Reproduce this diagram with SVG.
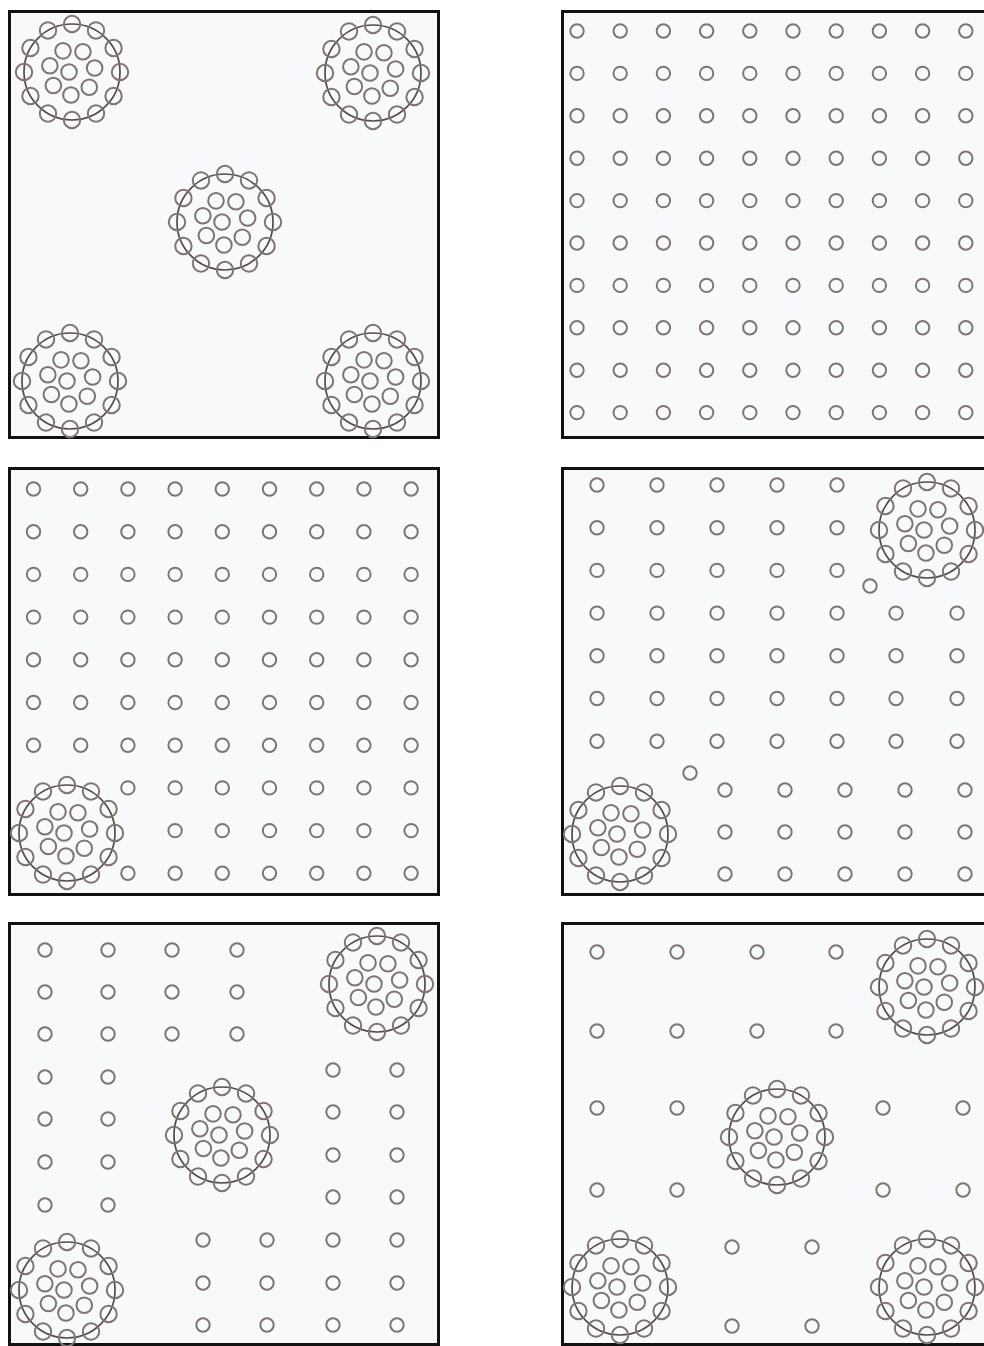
<svg xmlns="http://www.w3.org/2000/svg" xmlns:xlink="http://www.w3.org/1999/xlink" width="984" height="1346" viewBox="0 0 984 1346">
<style>
.panel{fill:#f8f9fa;stroke:#111;stroke-width:3}
.c{fill:none;stroke:#807473;stroke-width:2}
.ring{fill:none;stroke:#554b4a;stroke-width:1.7}
</style>
<defs>
<circle id="s" class="c" r="6.7"/>
<g id="cluster">
<circle class="ring" r="48"/>
<circle class="c" r="8.2" cx="0" cy="-48"/>
<circle class="c" r="8.2" cx="24" cy="-41.57"/>
<circle class="c" r="8.2" cx="41.57" cy="-24"/>
<circle class="c" r="8.2" cx="48" cy="0"/>
<circle class="c" r="8.2" cx="41.57" cy="24"/>
<circle class="c" r="8.2" cx="24" cy="41.57"/>
<circle class="c" r="8.2" cx="0" cy="48"/>
<circle class="c" r="8.2" cx="-24" cy="41.57"/>
<circle class="c" r="8.2" cx="-41.57" cy="24"/>
<circle class="c" r="8.2" cx="-48" cy="0"/>
<circle class="c" r="8.2" cx="-41.57" cy="-24"/>
<circle class="c" r="8.2" cx="-24" cy="-41.57"/>
<circle class="c" r="7.8" cx="-3" cy="0"/>
<circle class="c" r="7.8" cx="-8.99" cy="-21.17"/>
<circle class="c" r="7.8" cx="10.94" cy="-20.23"/>
<circle class="c" r="7.8" cx="22.64" cy="-4.03"/>
<circle class="c" r="7.8" cx="17.28" cy="15.18"/>
<circle class="c" r="7.8" cx="-1.08" cy="22.97"/>
<circle class="c" r="7.8" cx="-18.63" cy="13.49"/>
<circle class="c" r="7.8" cx="-22.15" cy="-6.19"/>
</g>
</defs>
<rect width="984" height="1346" fill="#fff"/>

<g id="panel1">
<rect class="panel" x="9.5" y="11.5" width="429" height="426"/>
<use href="#cluster" x="72" y="72"/>
<use href="#cluster" x="373" y="73"/>
<use href="#cluster" x="225" y="222"/>
<use href="#cluster" x="70" y="381"/>
<use href="#cluster" x="373" y="381"/>
</g>

<g id="panel2">
<rect class="panel" x="562.5" y="11.5" width="429" height="426"/>
<g id="grid2">
<use href="#s" x="577" y="31"/><use href="#s" x="620.2" y="31"/><use href="#s" x="663.4" y="31"/><use href="#s" x="706.6" y="31"/><use href="#s" x="749.8" y="31"/><use href="#s" x="793" y="31"/><use href="#s" x="836.2" y="31"/><use href="#s" x="879.4" y="31"/><use href="#s" x="922.6" y="31"/><use href="#s" x="965.8" y="31"/>
<use href="#s" x="577" y="73.4"/><use href="#s" x="620.2" y="73.4"/><use href="#s" x="663.4" y="73.4"/><use href="#s" x="706.6" y="73.4"/><use href="#s" x="749.8" y="73.4"/><use href="#s" x="793" y="73.4"/><use href="#s" x="836.2" y="73.4"/><use href="#s" x="879.4" y="73.4"/><use href="#s" x="922.6" y="73.4"/><use href="#s" x="965.8" y="73.4"/>
<use href="#s" x="577" y="115.8"/><use href="#s" x="620.2" y="115.8"/><use href="#s" x="663.4" y="115.8"/><use href="#s" x="706.6" y="115.8"/><use href="#s" x="749.8" y="115.8"/><use href="#s" x="793" y="115.8"/><use href="#s" x="836.2" y="115.8"/><use href="#s" x="879.4" y="115.8"/><use href="#s" x="922.6" y="115.8"/><use href="#s" x="965.8" y="115.8"/>
<use href="#s" x="577" y="158.2"/><use href="#s" x="620.2" y="158.2"/><use href="#s" x="663.4" y="158.2"/><use href="#s" x="706.6" y="158.2"/><use href="#s" x="749.8" y="158.2"/><use href="#s" x="793" y="158.2"/><use href="#s" x="836.2" y="158.2"/><use href="#s" x="879.4" y="158.2"/><use href="#s" x="922.6" y="158.2"/><use href="#s" x="965.8" y="158.2"/>
<use href="#s" x="577" y="200.6"/><use href="#s" x="620.2" y="200.6"/><use href="#s" x="663.4" y="200.6"/><use href="#s" x="706.6" y="200.6"/><use href="#s" x="749.8" y="200.6"/><use href="#s" x="793" y="200.6"/><use href="#s" x="836.2" y="200.6"/><use href="#s" x="879.4" y="200.6"/><use href="#s" x="922.6" y="200.6"/><use href="#s" x="965.8" y="200.6"/>
<use href="#s" x="577" y="243"/><use href="#s" x="620.2" y="243"/><use href="#s" x="663.4" y="243"/><use href="#s" x="706.6" y="243"/><use href="#s" x="749.8" y="243"/><use href="#s" x="793" y="243"/><use href="#s" x="836.2" y="243"/><use href="#s" x="879.4" y="243"/><use href="#s" x="922.6" y="243"/><use href="#s" x="965.8" y="243"/>
<use href="#s" x="577" y="285.4"/><use href="#s" x="620.2" y="285.4"/><use href="#s" x="663.4" y="285.4"/><use href="#s" x="706.6" y="285.4"/><use href="#s" x="749.8" y="285.4"/><use href="#s" x="793" y="285.4"/><use href="#s" x="836.2" y="285.4"/><use href="#s" x="879.4" y="285.4"/><use href="#s" x="922.6" y="285.4"/><use href="#s" x="965.8" y="285.4"/>
<use href="#s" x="577" y="327.8"/><use href="#s" x="620.2" y="327.8"/><use href="#s" x="663.4" y="327.8"/><use href="#s" x="706.6" y="327.8"/><use href="#s" x="749.8" y="327.8"/><use href="#s" x="793" y="327.8"/><use href="#s" x="836.2" y="327.8"/><use href="#s" x="879.4" y="327.8"/><use href="#s" x="922.6" y="327.8"/><use href="#s" x="965.8" y="327.8"/>
<use href="#s" x="577" y="370.2"/><use href="#s" x="620.2" y="370.2"/><use href="#s" x="663.4" y="370.2"/><use href="#s" x="706.6" y="370.2"/><use href="#s" x="749.8" y="370.2"/><use href="#s" x="793" y="370.2"/><use href="#s" x="836.2" y="370.2"/><use href="#s" x="879.4" y="370.2"/><use href="#s" x="922.6" y="370.2"/><use href="#s" x="965.8" y="370.2"/>
<use href="#s" x="577" y="412.6"/><use href="#s" x="620.2" y="412.6"/><use href="#s" x="663.4" y="412.6"/><use href="#s" x="706.6" y="412.6"/><use href="#s" x="749.8" y="412.6"/><use href="#s" x="793" y="412.6"/><use href="#s" x="836.2" y="412.6"/><use href="#s" x="879.4" y="412.6"/><use href="#s" x="922.6" y="412.6"/><use href="#s" x="965.8" y="412.6"/>
</g>
</g>

<g id="panel3">
<rect class="panel" x="9.5" y="468.5" width="429" height="426"/>
<use href="#s" x="33.5" y="489"/><use href="#s" x="80.7" y="489"/><use href="#s" x="127.9" y="489"/><use href="#s" x="175.1" y="489"/><use href="#s" x="222.3" y="489"/><use href="#s" x="269.5" y="489"/><use href="#s" x="316.7" y="489"/><use href="#s" x="363.9" y="489"/><use href="#s" x="411.1" y="489"/>
<use href="#s" x="33.5" y="531.7"/><use href="#s" x="80.7" y="531.7"/><use href="#s" x="127.9" y="531.7"/><use href="#s" x="175.1" y="531.7"/><use href="#s" x="222.3" y="531.7"/><use href="#s" x="269.5" y="531.7"/><use href="#s" x="316.7" y="531.7"/><use href="#s" x="363.9" y="531.7"/><use href="#s" x="411.1" y="531.7"/>
<use href="#s" x="33.5" y="574.4"/><use href="#s" x="80.7" y="574.4"/><use href="#s" x="127.9" y="574.4"/><use href="#s" x="175.1" y="574.4"/><use href="#s" x="222.3" y="574.4"/><use href="#s" x="269.5" y="574.4"/><use href="#s" x="316.7" y="574.4"/><use href="#s" x="363.9" y="574.4"/><use href="#s" x="411.1" y="574.4"/>
<use href="#s" x="33.5" y="617.1"/><use href="#s" x="80.7" y="617.1"/><use href="#s" x="127.9" y="617.1"/><use href="#s" x="175.1" y="617.1"/><use href="#s" x="222.3" y="617.1"/><use href="#s" x="269.5" y="617.1"/><use href="#s" x="316.7" y="617.1"/><use href="#s" x="363.9" y="617.1"/><use href="#s" x="411.1" y="617.1"/>
<use href="#s" x="33.5" y="659.8"/><use href="#s" x="80.7" y="659.8"/><use href="#s" x="127.9" y="659.8"/><use href="#s" x="175.1" y="659.8"/><use href="#s" x="222.3" y="659.8"/><use href="#s" x="269.5" y="659.8"/><use href="#s" x="316.7" y="659.8"/><use href="#s" x="363.9" y="659.8"/><use href="#s" x="411.1" y="659.8"/>
<use href="#s" x="33.5" y="702.5"/><use href="#s" x="80.7" y="702.5"/><use href="#s" x="127.9" y="702.5"/><use href="#s" x="175.1" y="702.5"/><use href="#s" x="222.3" y="702.5"/><use href="#s" x="269.5" y="702.5"/><use href="#s" x="316.7" y="702.5"/><use href="#s" x="363.9" y="702.5"/><use href="#s" x="411.1" y="702.5"/>
<use href="#s" x="33.5" y="745.2"/><use href="#s" x="80.7" y="745.2"/><use href="#s" x="127.9" y="745.2"/><use href="#s" x="175.1" y="745.2"/><use href="#s" x="222.3" y="745.2"/><use href="#s" x="269.5" y="745.2"/><use href="#s" x="316.7" y="745.2"/><use href="#s" x="363.9" y="745.2"/><use href="#s" x="411.1" y="745.2"/>
<use href="#s" x="127.9" y="787.9"/><use href="#s" x="175.1" y="787.9"/><use href="#s" x="222.3" y="787.9"/><use href="#s" x="269.5" y="787.9"/><use href="#s" x="316.7" y="787.9"/><use href="#s" x="363.9" y="787.9"/><use href="#s" x="411.1" y="787.9"/>
<use href="#s" x="175.1" y="830.6"/><use href="#s" x="222.3" y="830.6"/><use href="#s" x="269.5" y="830.6"/><use href="#s" x="316.7" y="830.6"/><use href="#s" x="363.9" y="830.6"/><use href="#s" x="411.1" y="830.6"/>
<use href="#s" x="127.9" y="873.3"/><use href="#s" x="175.1" y="873.3"/><use href="#s" x="222.3" y="873.3"/><use href="#s" x="269.5" y="873.3"/><use href="#s" x="316.7" y="873.3"/><use href="#s" x="363.9" y="873.3"/><use href="#s" x="411.1" y="873.3"/>
<use href="#cluster" x="67" y="833"/>
</g>

<g id="panel4">
<rect class="panel" x="562.5" y="468.5" width="429" height="426"/>
<use href="#s" x="597" y="485"/><use href="#s" x="657" y="485"/><use href="#s" x="717" y="485"/><use href="#s" x="777" y="485"/><use href="#s" x="837" y="485"/>
<use href="#s" x="597" y="527.7"/><use href="#s" x="657" y="527.7"/><use href="#s" x="717" y="527.7"/><use href="#s" x="777" y="527.7"/><use href="#s" x="837" y="527.7"/>
<use href="#s" x="597" y="570.4"/><use href="#s" x="657" y="570.4"/><use href="#s" x="717" y="570.4"/><use href="#s" x="777" y="570.4"/><use href="#s" x="837" y="570.4"/>
<use href="#s" x="597" y="613.1"/><use href="#s" x="657" y="613.1"/><use href="#s" x="717" y="613.1"/><use href="#s" x="777" y="613.1"/><use href="#s" x="837" y="613.1"/><use href="#s" x="896" y="613.1"/><use href="#s" x="957" y="613.1"/>
<use href="#s" x="597" y="655.8"/><use href="#s" x="657" y="655.8"/><use href="#s" x="717" y="655.8"/><use href="#s" x="777" y="655.8"/><use href="#s" x="837" y="655.8"/><use href="#s" x="896" y="655.8"/><use href="#s" x="957" y="655.8"/>
<use href="#s" x="597" y="698.5"/><use href="#s" x="657" y="698.5"/><use href="#s" x="717" y="698.5"/><use href="#s" x="777" y="698.5"/><use href="#s" x="837" y="698.5"/><use href="#s" x="896" y="698.5"/><use href="#s" x="957" y="698.5"/>
<use href="#s" x="597" y="741.2"/><use href="#s" x="657" y="741.2"/><use href="#s" x="717" y="741.2"/><use href="#s" x="777" y="741.2"/><use href="#s" x="837" y="741.2"/><use href="#s" x="896" y="741.2"/><use href="#s" x="957" y="741.2"/>
<use href="#s" x="870" y="586"/>
<use href="#s" x="690" y="773"/>
<use href="#s" x="725" y="790"/><use href="#s" x="785" y="790"/><use href="#s" x="845" y="790"/><use href="#s" x="905" y="790"/><use href="#s" x="965" y="790"/>
<use href="#s" x="725" y="832"/><use href="#s" x="785" y="832"/><use href="#s" x="845" y="832"/><use href="#s" x="905" y="832"/><use href="#s" x="965" y="832"/>
<use href="#s" x="725" y="874"/><use href="#s" x="785" y="874"/><use href="#s" x="845" y="874"/><use href="#s" x="905" y="874"/><use href="#s" x="965" y="874"/>
<use href="#cluster" x="927" y="530"/>
<use href="#cluster" x="620" y="834"/>
</g>

<g id="panel5">
<rect class="panel" x="9.5" y="923.5" width="429" height="421"/>
<use href="#s" x="45" y="950"/><use href="#s" x="108" y="950"/><use href="#s" x="172" y="950"/><use href="#s" x="237" y="950"/>
<use href="#s" x="45" y="992"/><use href="#s" x="108" y="992"/><use href="#s" x="172" y="992"/><use href="#s" x="237" y="992"/>
<use href="#s" x="45" y="1034"/><use href="#s" x="108" y="1034"/><use href="#s" x="172" y="1034"/><use href="#s" x="237" y="1034"/>
<use href="#s" x="45" y="1077"/><use href="#s" x="108" y="1077"/>
<use href="#s" x="45" y="1119"/><use href="#s" x="108" y="1119"/>
<use href="#s" x="45" y="1162"/><use href="#s" x="108" y="1162"/>
<use href="#s" x="45" y="1205"/><use href="#s" x="108" y="1205"/>
<use href="#s" x="333" y="1070"/><use href="#s" x="397" y="1070"/>
<use href="#s" x="333" y="1112"/><use href="#s" x="397" y="1112"/>
<use href="#s" x="333" y="1155"/><use href="#s" x="397" y="1155"/>
<use href="#s" x="333" y="1197"/><use href="#s" x="397" y="1197"/>
<use href="#s" x="203" y="1240"/><use href="#s" x="267" y="1240"/><use href="#s" x="333" y="1240"/><use href="#s" x="397" y="1240"/>
<use href="#s" x="203" y="1283"/><use href="#s" x="267" y="1283"/><use href="#s" x="333" y="1283"/><use href="#s" x="397" y="1283"/>
<use href="#s" x="203" y="1325"/><use href="#s" x="267" y="1325"/><use href="#s" x="333" y="1325"/><use href="#s" x="397" y="1325"/>
<use href="#cluster" x="377" y="984"/>
<use href="#cluster" x="222" y="1135"/>
<use href="#cluster" x="67" y="1290"/>
</g>

<g id="panel6">
<rect class="panel" x="562.5" y="923.5" width="429" height="421"/>
<use href="#s" x="597" y="952"/><use href="#s" x="677" y="952"/><use href="#s" x="757" y="952"/><use href="#s" x="836" y="952"/>
<use href="#s" x="597" y="1031"/><use href="#s" x="677" y="1031"/><use href="#s" x="757" y="1031"/><use href="#s" x="836" y="1031"/>
<use href="#s" x="597" y="1108"/><use href="#s" x="677" y="1108"/><use href="#s" x="883" y="1108"/><use href="#s" x="963" y="1108"/>
<use href="#s" x="597" y="1190"/><use href="#s" x="677" y="1190"/><use href="#s" x="883" y="1190"/><use href="#s" x="963" y="1190"/>
<use href="#s" x="732" y="1247"/><use href="#s" x="812" y="1247"/>
<use href="#s" x="732" y="1326"/><use href="#s" x="812" y="1326"/>
<use href="#cluster" x="927" y="987"/>
<use href="#cluster" x="777" y="1137"/>
<use href="#cluster" x="620" y="1287"/>
<use href="#cluster" x="927" y="1287"/>
</g>
</svg>
